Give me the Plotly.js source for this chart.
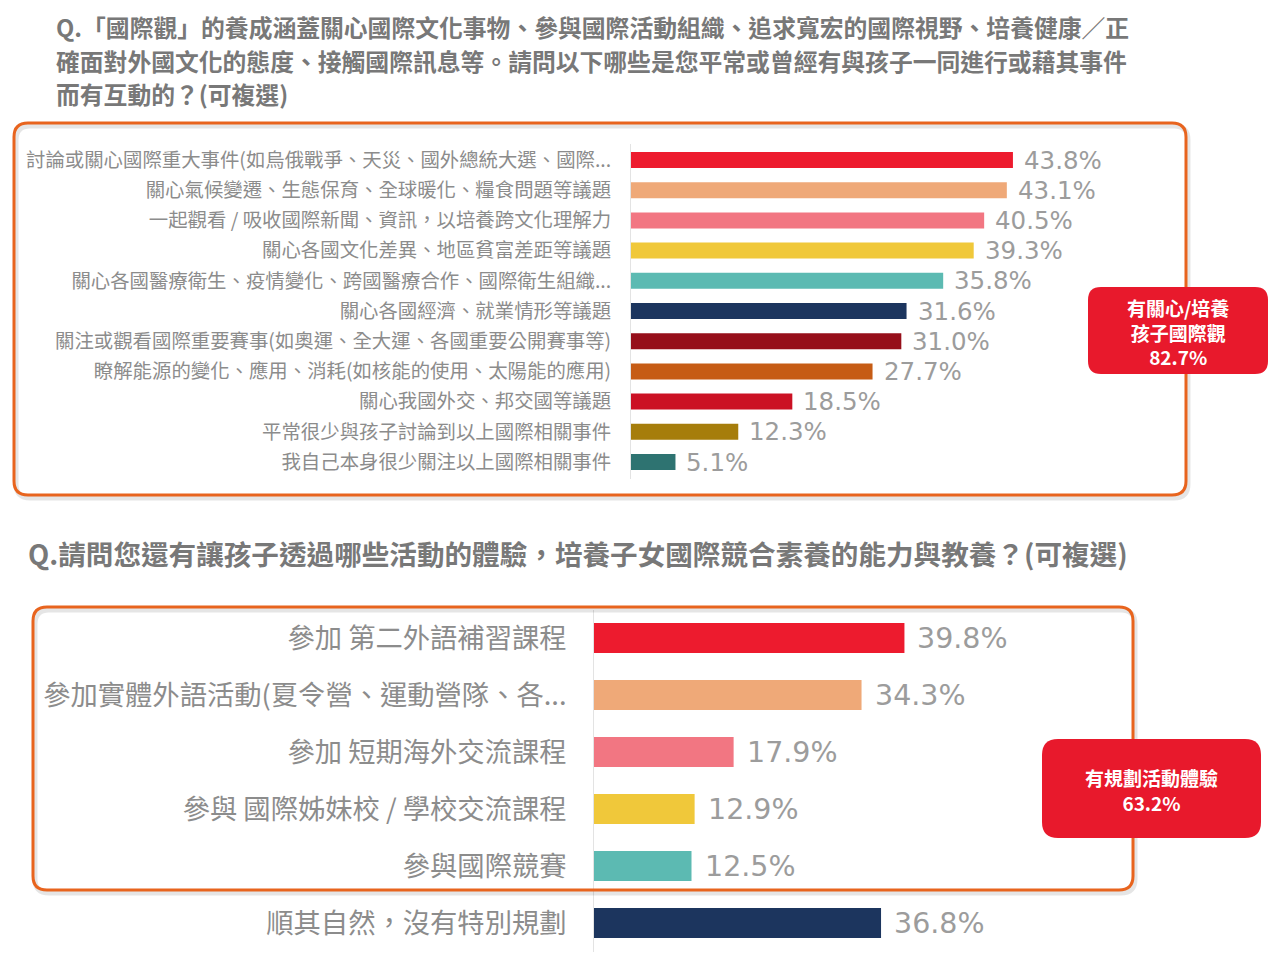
<!DOCTYPE html>
<html>
<head>
<meta charset="utf-8">
<script src="https://cdn.plot.ly/plotly-3.0.1.min.js"></script>
<style>html,body{margin:0;padding:0;background:#fff;}#chart{width:1280px;height:965px;}</style>
</head>
<body>
<div id="chart"></div>
<script>
// ---------- data ----------
const titleLines1 = [
  "Q.「國際觀」的養成涵蓋關心國際文化事物、參與國際活動組織、追求寬宏的國際視野、培養健康／正",
  "確面對外國文化的態度、接觸國際訊息等。請問以下哪些是您平常或曾經有與孩子一同進行或藉其事件",
  "而有互動的？(可複選)"
];
const title2 = "Q.請問您還有讓孩子透過哪些活動的體驗，培養子女國際競合素養的能力與教養？(可複選)";

const topCategories = [
  "討論或關心國際重大事件(如烏俄戰爭、天災、國外總統大選、國際...",
  "關心氣候變遷、生態保育、全球暖化、糧食問題等議題",
  "一起觀看 / 吸收國際新聞、資訊，以培養跨文化理解力",
  "關心各國文化差異、地區貧富差距等議題",
  "關心各國醫療衛生、疫情變化、跨國醫療合作、國際衛生組織...",
  "關心各國經濟、就業情形等議題",
  "關注或觀看國際重要賽事(如奧運、全大運、各國重要公開賽事等)",
  "瞭解能源的變化、應用、消耗(如核能的使用、太陽能的應用)",
  "關心我國外交、邦交國等議題",
  "平常很少與孩子討論到以上國際相關事件",
  "我自己本身很少關注以上國際相關事件"
];
const topValues = [43.8, 43.1, 40.5, 39.3, 35.8, 31.6, 31.0, 27.7, 18.5, 12.3, 5.1];
const topColors = ["#ED1B2E","#EFA978","#F27682","#F0C83A","#5CBAB2","#1C355E","#960F1A","#C65C15","#CB1124","#A67D0B","#2E7371"];
const topCallout = ["有關心/培養", "孩子國際觀", "82.7%"];

const botCategories = [
  "參加 第二外語補習課程",
  "參加實體外語活動(夏令營、運動營隊、各...",
  "參加 短期海外交流課程",
  "參與 國際姊妹校 / 學校交流課程",
  "參與國際競賽",
  "順其自然，沒有特別規劃"
];
const botValues = [39.8, 34.3, 17.9, 12.9, 12.5, 36.8];
const botColors = ["#ED1B2E","#EFA978","#F27682","#F0C83A","#5CBAB2","#1C355E"];
const botCallout = ["有規劃活動體驗", "63.2%"];

// ---------- layout helpers ----------
const W = 1280, H = 965;
const PX = v => v / W, PY = v => 1 - v / H;
function rr(x0, y0, x1, y1, r) {
  const X = v => (v / W).toFixed(5), Y = v => (1 - v / H).toFixed(5);
  return `M ${X(x0+r)},${Y(y0)} L ${X(x1-r)},${Y(y0)} Q ${X(x1)},${Y(y0)} ${X(x1)},${Y(y0+r)} ` +
         `L ${X(x1)},${Y(y1-r)} Q ${X(x1)},${Y(y1)} ${X(x1-r)},${Y(y1)} L ${X(x0+r)},${Y(y1)} ` +
         `Q ${X(x0)},${Y(y1)} ${X(x0)},${Y(y1-r)} L ${X(x0)},${Y(y0+r)} Q ${X(x0)},${Y(y0)} ${X(x0+r)},${Y(y0)} Z`;
}

const CJK = '"Noto Sans CJK TC", "Noto Sans CJK SC", sans-serif';
const NUM = '"DejaVu Sans", Verdana, sans-serif';

const traces = [
  {
    type: 'bar', orientation: 'h', x: topValues, y: topCategories,
    marker: { color: topColors }, width: 0.53, xaxis: 'x', yaxis: 'y',
    hoverinfo: 'skip', showlegend: false
  },
  {
    type: 'bar', orientation: 'h', x: botValues, y: botCategories,
    marker: { color: botColors }, width: 0.53, xaxis: 'x2', yaxis: 'y2',
    hoverinfo: 'skip', showlegend: false
  }
];

const annotations = [];
titleLines1.forEach((t, i) => annotations.push({
  xref: 'paper', yref: 'paper', x: PX(54), y: PY(27 + i * 33.5), xanchor: 'left', yanchor: 'middle',
  text: t, showarrow: false, font: { family: CJK, size: 23.8, color: '#787878', weight: 'bold' }
}));
annotations.push({
  xref: 'paper', yref: 'paper', x: PX(26), y: PY(553), xanchor: 'left', yanchor: 'middle',
  text: title2, showarrow: false, font: { family: CJK, size: 27.6, color: '#787878', weight: 'bold' }
});
topValues.forEach((v, i) => annotations.push({
  xref: 'x', yref: 'y', x: v, y: topCategories[i], xanchor: 'left', yanchor: 'middle', xshift: 9,
  text: v.toFixed(1) + '%', showarrow: false, font: { family: NUM, size: 24.5, color: '#9c9c9c' }
}));
botValues.forEach((v, i) => annotations.push({
  xref: 'x2', yref: 'y2', x: v, y: botCategories[i], xanchor: 'left', yanchor: 'middle', xshift: 11,
  text: v.toFixed(1) + '%', showarrow: false, font: { family: NUM, size: 28.5, color: '#9c9c9c' }
}));
annotations.push({
  xref: 'paper', yref: 'paper', x: PX(1178), y: PY(332), xanchor: 'center', yanchor: 'middle',
  text: topCallout.join('<br>'), showarrow: false, font: { family: CJK, size: 19, color: '#ffffff', weight: 'bold' }
});
annotations.push({
  xref: 'paper', yref: 'paper', x: PX(1151), y: PY(790), xanchor: 'center', yanchor: 'middle',
  text: botCallout.join('<br>'), showarrow: false, font: { family: CJK, size: 19, color: '#ffffff', weight: 'bold' }
});

const shapes = [
  // soft shadows
  { type: 'path', xref: 'paper', yref: 'paper', path: rr(16, 126, 1188, 498, 14), line: { color: 'rgba(0,0,0,0.10)', width: 5 }, layer: 'above' },
  { type: 'path', xref: 'paper', yref: 'paper', path: rr(35, 610, 1135, 893, 14), line: { color: 'rgba(0,0,0,0.10)', width: 5 }, layer: 'above' },
  // orange frames
  { type: 'path', xref: 'paper', yref: 'paper', path: rr(14, 123, 1186, 495, 14), line: { color: '#E8641E', width: 3 }, layer: 'above' },
  { type: 'path', xref: 'paper', yref: 'paper', path: rr(33, 607, 1133, 890, 14), line: { color: '#E8641E', width: 3 }, layer: 'above' },
  // red callouts
  { type: 'path', xref: 'paper', yref: 'paper', path: rr(1088, 287, 1268, 374, 13), fillcolor: '#E8192C', line: { width: 0 }, layer: 'above' },
  { type: 'path', xref: 'paper', yref: 'paper', path: rr(1042, 739, 1261, 838, 16), fillcolor: '#E8192C', line: { width: 0 }, layer: 'above' }
];

const layout = {
  width: W, height: H,
  margin: { l: 0, r: 0, t: 0, b: 0 },
  paper_bgcolor: '#ffffff', plot_bgcolor: 'rgba(0,0,0,0)',
  showlegend: false, bargap: 0.47,
  xaxis: { domain: [PX(631), PX(1131)], range: [0, 500 / 8.72], visible: false, fixedrange: true },
  yaxis: {
    domain: [PY(478.5), PY(143.5)], type: 'category', autorange: 'reversed',
    showline: true, linecolor: '#e3e3e3', linewidth: 1, showgrid: false, zeroline: false,
    ticks: '', ticklabelstandoff: 15, anchor: 'x',
    tickfont: { family: CJK, size: 19.4, color: '#8c8c8c' }, fixedrange: true
  },
  xaxis2: { domain: [PX(594), PX(1094)], range: [0, 500 / 7.8], visible: false, anchor: 'y2', fixedrange: true },
  yaxis2: {
    domain: [PY(951.5), PY(609.5)], type: 'category', autorange: 'reversed', anchor: 'x2',
    showline: true, linecolor: '#e3e3e3', linewidth: 1, showgrid: false, zeroline: false,
    ticks: '', ticklabelstandoff: 21,
    tickfont: { family: CJK, size: 27.3, color: '#8c8c8c' }, fixedrange: true
  },
  annotations: annotations,
  shapes: shapes
};

Plotly.newPlot('chart', traces, layout, { displayModeBar: false, staticPlot: true });
</script>
</body>
</html>
